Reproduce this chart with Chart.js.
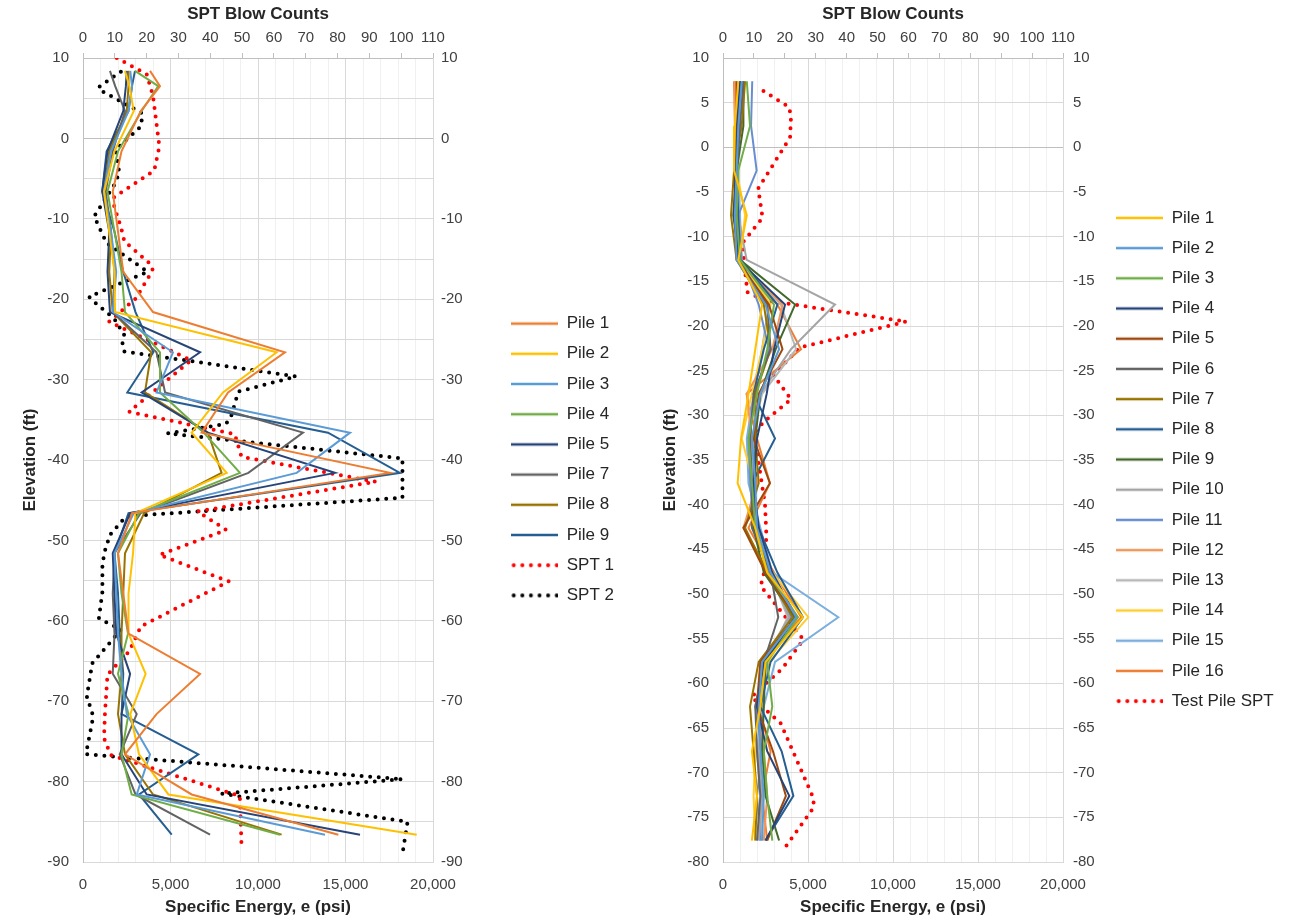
<!DOCTYPE html>
<html>
<head>
<meta charset="utf-8">
<script src="https://cdn.jsdelivr.net/npm/chart.js@4"></script>
<style>
  body { margin: 0; background: #fff; }
  canvas { position: absolute; top: 0; }
  #left { left: 0; }
  #right { left: 640px; }
</style>
</head>
<body>
<canvas id="left" width="638" height="919"></canvas>
<canvas id="right" width="659" height="919"></canvas>
<script>
// ---- left chart: piles vs elevation ----
var leftElev = [8.4, 6.5, 3.4, -1.6, -6.6, -11.6, -16.6, -21.6, -26.6, -31.6, -36.6, -41.6, -46.6, -51.6, -56.6, -61.6, -66.6, -71.6, -76.6, -81.6, -86.6];
var lPile1 = [3830, 4400, 3300, 2200, 1700, 2000, 2300, 4000, 11540, 8290, 6780, 17540, 2800, 2000, 2300, 2600, 6690, 4200, 2400, 6210, 14590];
var lPile2 = [2400, 2650, 2900, 1800, 1200, 1500, 1800, 1830, 11070, 8000, 6210, 8210, 3000, 2860, 2600, 2600, 3580, 2700, 3200, 4880, 19070];
var lPile3 = [2700, 2800, 2600, 1600, 1200, 1600, 1900, 1700, 5140, 4200, 15260, 12210, 2900, 1800, 1900, 2000, 2200, 2500, 3830, 3070, 13830];
var lPile4 = [2970, 4300, 3350, 2000, 1400, 1800, 2200, 2400, 4400, 4400, 6900, 8970, 3200, 2000, 2200, 2570, 2000, 2600, 2200, 2780, 11260];
var lPile5 = [2500, 2450, 2300, 1400, 1100, 1500, 1400, 1540, 6690, 3350, 7140, 14400, 2700, 1700, 1800, 1900, 2690, 2200, 2200, 3640, 15830];
var lPile7 = [1540, 1840, 2400, 1700, 1300, 1600, 1800, 1700, 4200, 4690, 12570, 9450, 3300, 1800, 1700, 1800, 1700, 3070, 2100, 3000, 7260];
var lPile8 = [2590, 2600, 2500, 1500, 1200, 1600, 1500, 1700, 3900, 3540, 7140, 7920, 3500, 2400, 2300, 2200, 2200, 2000, 2400, 4000, 11350];
var lPile9 = [2970, 2800, 2600, 1350, 1100, 1800, 2300, 3000, 4020, 2530, 14000, 18110, 2600, 1800, 2000, 2100, 2300, 2210, 6590, 3200, 5070];

var spt1Elev = [10.0, 8.0, 5.3, -1.0, -4.0, -7.3, -8.5, -11.0, -12.8, -15.7, -16.4, -19.9, -22.8, -27.6, -34.0, -36.8, -39.6, -42.7, -46.4, -48.7, -51.8, -55.1, -60.7, -63.8, -66.7, -71.5, -74.6, -76.7, -81.8, -87.7];
var spt1Blows = [10.6, 20.0, 22.0, 24.0, 22.4, 9.8, 9.8, 11.9, 13.0, 21.4, 21.9, 16.6, 8.2, 34.0, 14.5, 47.7, 49.8, 92.0, 36.0, 45.0, 24.0, 45.8, 18.2, 14.5, 7.7, 6.9, 6.6, 8.7, 49.3, 49.8];
var spt2Elev = [8.3, 6.4, 6.1, 3.1, 1.5, -1.4, -4.3, -5.8, -9.7, -13.0, -16.6, -19.7, -20.5, -22.4, -24.5, -25.5, -26.5, -29.6, -31.5, -34.4, -35.5, -36.7, -39.8, -44.7, -47.0, -49.3, -51.4, -53.0, -56.4, -59.7, -61.1, -65.3, -69.4, -71.5, -72.6, -76.6, -79.7, -81.5, -85.0, -89.0];
var spt2Blows = [11.9, 5.0, 5.0, 18.7, 18.2, 10.3, 11.4, 9.8, 3.5, 7.4, 20.3, 1.9, 4.0, 9.8, 13.0, 12.4, 13.0, 67.0, 48.8, 46.7, 45.0, 26.6, 100.4, 100.4, 13.5, 8.5, 6.8, 6.1, 6.1, 5.0, 11.9, 2.9, 1.2, 2.9, 2.9, 0.9, 100.4, 43.5, 102.0, 100.4];

// ---- right chart ----
var rightElev = [7.4, 2.4, -2.6, -7.6, -12.6, -17.6, -22.6, -27.6, -32.6, -37.6, -42.6, -47.6, -52.6, -57.6, -62.6, -67.6, -72.6, -77.6];
var rPile1 = [900, 700, 650, 1400, 900, 2300, 1900, 1500, 1060, 860, 1900, 2600, 4700, 2500, 2200, 1700, 2000, 1700];
var rPile2 = [1100, 900, 800, 700, 800, 2500, 3300, 2200, 1700, 1900, 2000, 2800, 4300, 2300, 2100, 2200, 2400, 2300];
var rPile3 = [1400, 1590, 900, 800, 1000, 3000, 2600, 2000, 1500, 1700, 1900, 2600, 4400, 2600, 2900, 2400, 2600, 2900];
var rPile4 = [1000, 850, 750, 650, 900, 3650, 3000, 2570, 2000, 1800, 2100, 2900, 4300, 2400, 2000, 2600, 3900, 2500];
var rPile5 = [800, 800, 700, 700, 800, 2700, 3500, 2100, 1800, 2760, 1200, 2500, 4300, 2200, 2000, 2940, 3700, 2600];
var rPile6 = [1200, 1000, 800, 800, 900, 2600, 2800, 1800, 1600, 1700, 1700, 2800, 3250, 2400, 1900, 2000, 2200, 2000];
var rPile7 = [1300, 1100, 650, 470, 800, 2400, 2800, 1900, 1900, 2100, 1300, 2600, 4100, 2100, 1590, 1800, 2000, 1900];
var rPile8 = [1000, 850, 800, 900, 1000, 3200, 2400, 1800, 3060, 1700, 2100, 3200, 4700, 2800, 2200, 3450, 4140, 2500];
var rPile9 = [1200, 1200, 800, 600, 1000, 4240, 3100, 2200, 1900, 1900, 1800, 2400, 4200, 2500, 2400, 2300, 2500, 3300];
var rPile10 = [1100, 900, 850, 900, 1390, 6590, 4000, 2200, 1800, 1800, 1800, 2800, 3900, 2300, 2300, 2100, 2300, 2100];
var rPile11 = [1720, 1650, 1980, 900, 1100, 2100, 2700, 1900, 1500, 1600, 1800, 2700, 4000, 2500, 1900, 2300, 2000, 2200];
var rPile12 = [700, 750, 700, 750, 900, 3500, 2900, 1390, 1700, 2000, 1200, 2700, 4400, 2200, 2000, 2400, 2600, 2400];
var rPile13 = [1000, 950, 900, 850, 1000, 3400, 4300, 2300, 1700, 1800, 1900, 2800, 3800, 2600, 2300, 2000, 2200, 2300];
var rPile14 = [750, 700, 800, 1300, 1000, 2800, 2300, 1700, 1100, 1800, 2000, 2900, 5020, 2700, 2000, 1900, 1800, 1900];
var rPile15 = [800, 700, 900, 1000, 1100, 2700, 2300, 1800, 1400, 1500, 2200, 2900, 6780, 3060, 2400, 2000, 2300, 2200];
var rPile16 = [650, 700, 750, 800, 850, 3200, 4590, 1390, 2000, 2760, 1500, 3000, 4600, 2300, 2100, 2800, 2300, 2600];

var testSptElev = [6.3, 4.5, 3.4, 1.1, -4.6, -7.9, -10.6, -12.8, -16.2, -17.1, -19.5, -22.4, -25.5, -28.2, -30.7, -32.2, -34.3, -40.0, -43.2, -46.9, -49.1, -55.1, -58.3, -61.5, -64.5, -72.9, -73.9, -78.5];
var testSptBlows = [13.1, 21.4, 22.0, 21.7, 11.4, 12.8, 6.5, 6.8, 7.9, 13.3, 59.3, 24.9, 16.3, 22.0, 13.3, 9.5, 11.1, 13.6, 14.0, 13.8, 12.2, 26.0, 19.3, 9.2, 18.7, 29.3, 29.3, 19.8];

Chart.defaults.font.family = "'Liberation Sans', Arial, sans-serif";
Chart.defaults.font.size = 15;
Chart.defaults.color = '#404040';

var titleColor = '#262626';
var titleFont = { size: 17, weight: 'bold' };

function line(label, color, xs, ys) {
    return {
        label: label,
        borderColor: color,
        backgroundColor: color,
        borderWidth: 2,
        pointRadius: 0,
        pointHoverRadius: 0,
        showLine: true,
        tension: 0,
        data: xs.map(function (x, i) { return { x: x, y: ys[i] }; })
    };
}

function dots(label, color, xs, ys) {
    var d = line(label, color, xs, ys);
    d.borderWidth = 4;
    d.borderDash = [0, 8.6];
    d.borderCapStyle = 'round';
    d.xAxisID = 'x2';
    return d;
}

// little picture of the line style, used as the legend marker
function sample(ds) {
    var c = document.createElement('canvas');
    c.width = 47;
    c.height = 8;
    var g = c.getContext('2d');
    g.strokeStyle = ds.borderColor;
    g.beginPath();
    if (ds.borderDash) {
        g.lineWidth = 4;
        g.lineCap = 'round';
        g.setLineDash([0, 8.6]);
        g.moveTo(2.5, 4);
    } else {
        g.lineWidth = 2.5;
        g.moveTo(0, 4);
    }
    g.lineTo(47, 4);
    g.stroke();
    return c;
}

// fixed legend width so the plot area lands where it should
function legendWidth(w) {
    return {
        id: 'legendWidth',
        beforeUpdate: function (chart) {
            var lg = chart.legend;
            if (lg && !lg._fixedW) {
                var fit = lg.fit;
                lg.fit = function () { fit.call(this); this.width = w; };
                lg._fixedW = true;
            }
        }
    };
}

function makeScales(yMin, yMax, labelEvery, y2Width, y2Pad) {
    return {
        x: {
            type: 'linear', position: 'bottom', min: 0, max: 20000,
            ticks: {
                stepSize: 1000, autoSkip: false, maxRotation: 0, padding: 14,
                callback: function (v) { return v % 5000 === 0 ? v.toLocaleString('en-US') : ''; }
            },
            grid: {
                drawTicks: false,
                color: function (c) { return c.tick.value % 5000 === 0 ? '#d9d9d9' : '#f0f0f0'; }
            },
            border: { color: '#d9d9d9' },
            title: { display: true, text: 'Specific Energy, e (psi)', color: titleColor, font: titleFont, padding: { top: 0, bottom: 1 } },
            afterFit: function (s) { s.height = 57; }
        },
        x2: {
            type: 'linear', position: 'top', min: 0, max: 110,
            ticks: { stepSize: 10, autoSkip: false, maxRotation: 0, padding: 6 },
            grid: { drawOnChartArea: false, tickLength: 5, tickColor: '#bfbfbf' },
            border: { color: '#bfbfbf' },
            title: { display: true, text: 'SPT Blow Counts', color: titleColor, font: titleFont, padding: { top: 4, bottom: 0 } },
            afterFit: function (s) { s.height = 58; }
        },
        y: {
            type: 'linear', position: 'left', min: yMin, max: yMax,
            ticks: {
                stepSize: 5, autoSkip: false, padding: 14,
                callback: function (v) { return v % labelEvery === 0 ? v : ''; }
            },
            grid: {
                drawTicks: false,
                color: function (c) { return c.tick.value === 0 ? '#bfbfbf' : '#d9d9d9'; }
            },
            border: { color: '#bfbfbf' },
            title: { display: true, text: 'Elevation (ft)', color: titleColor, font: titleFont, padding: { top: 20, bottom: 0 } },
            afterFit: function (s) { s.width = 83; }
        },
        y2: {
            type: 'linear', position: 'right', min: yMin, max: yMax,
            ticks: {
                stepSize: 5, autoSkip: false, padding: y2Pad,
                callback: function (v) { return v % labelEvery === 0 ? v : ''; }
            },
            grid: { drawOnChartArea: false, drawTicks: false },
            border: { color: '#d9d9d9' },
            afterFit: function (s) { s.width = y2Width; }
        }
    };
}

function makeOptions(yMin, yMax, labelEvery, y2Width, y2Pad, legendPad) {
    return {
        responsive: false,
        animation: false,
        devicePixelRatio: 1,
        layout: { padding: 0 },
        scales: makeScales(yMin, yMax, labelEvery, y2Width, y2Pad),
        plugins: {
            tooltip: { enabled: false },
            legend: {
                position: 'right',
                labels: {
                    usePointStyle: true, pointStyleWidth: 47,
                    padding: legendPad, color: '#262626', font: { size: 17 },
                    generateLabels: function (chart) {
                        var items = Chart.defaults.plugins.legend.labels.generateLabels(chart);
                        items.forEach(function (it) {
                            it.pointStyle = sample(chart.data.datasets[it.datasetIndex]);
                        });
                        return items;
                    }
                }
            }
        }
    };
}

new Chart(document.getElementById('left'), {
    type: 'scatter',
    data: {
        datasets: [
            line('Pile 1', '#ED7D31', lPile1, leftElev),
            line('Pile 2', '#FFC000', lPile2, leftElev),
            line('Pile 3', '#5B9BD5', lPile3, leftElev),
            line('Pile 4', '#70AD47', lPile4, leftElev),
            line('Pile 5', '#264478', lPile5, leftElev),
            line('Pile 7', '#636363', lPile7, leftElev),
            line('Pile 8', '#997300', lPile8, leftElev),
            line('Pile 9', '#255E91', lPile9, leftElev),
            dots('SPT 1', '#FF0000', spt1Blows, spt1Elev),
            dots('SPT 2', '#000000', spt2Blows, spt2Elev)
        ]
    },
    options: makeOptions(-90, 10, 10, 65, 8, 13.2),
    plugins: [legendWidth(140)]
});

new Chart(document.getElementById('right'), {
    type: 'scatter',
    data: {
        datasets: [
            line('Pile 1', '#FFC000', rPile1, rightElev),
            line('Pile 2', '#5B9BD5', rPile2, rightElev),
            line('Pile 3', '#70AD47', rPile3, rightElev),
            line('Pile 4', '#264478', rPile4, rightElev),
            line('Pile 5', '#9E480E', rPile5, rightElev),
            line('Pile 6', '#636363', rPile6, rightElev),
            line('Pile 7', '#997300', rPile7, rightElev),
            line('Pile 8', '#255E91', rPile8, rightElev),
            line('Pile 9', '#43682B', rPile9, rightElev),
            line('Pile 10', '#A5A5A5', rPile10, rightElev),
            line('Pile 11', '#698ED0', rPile11, rightElev),
            line('Pile 12', '#F1975A', rPile12, rightElev),
            line('Pile 13', '#B7B7B7', rPile13, rightElev),
            line('Pile 14', '#FFCD33', rPile14, rightElev),
            line('Pile 15', '#7CAFDD', rPile15, rightElev),
            line('Pile 16', '#ED7D31', rPile16, rightElev),
            dots('Test Pile SPT', '#FF0000', testSptBlows, testSptElev)
        ]
    },
    options: makeOptions(-80, 10, 5, 40, 10, 13.2),
    plugins: [legendWidth(196)]
});
</script>
</body>
</html>
